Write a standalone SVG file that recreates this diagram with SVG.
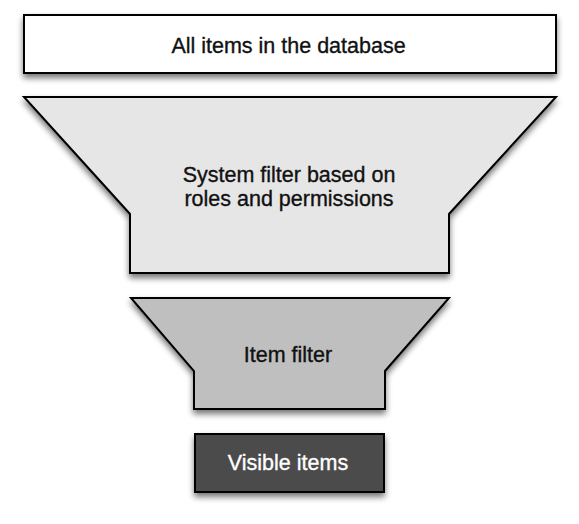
<svg xmlns="http://www.w3.org/2000/svg" width="579" height="524" viewBox="0 0 579 524">
<defs>
<filter id="sh" x="-20%" y="-20%" width="140%" height="150%">
<feGaussianBlur in="SourceAlpha" stdDeviation="3"/>
<feOffset dx="0" dy="4" result="b"/>
<feComponentTransfer><feFuncA type="linear" slope="0.55"/></feComponentTransfer>
<feMerge><feMergeNode/><feMergeNode in="SourceGraphic"/></feMerge>
</filter>
</defs>
<style>
.s{stroke:#000;stroke-width:2;stroke-linejoin:miter;filter:url(#sh)}
text{font-family:"Liberation Sans",Arial,sans-serif;font-size:21.5px;text-anchor:middle;fill:#111;stroke:#111;stroke-width:0.35}
text.w{fill:#fff;stroke:#fff}
</style>
<rect width="579" height="524" fill="#fff"/>
<g id="node-all">
<rect class="s" x="24" y="15" width="532" height="58" fill="#fff"/>
<text x="288.5" y="53">All items in the database</text>
</g>
<g id="node-system">
<path class="s" d="M24,97 L556,97 L449,214 L449,273 L130,273 L130,214 Z" fill="#e6e6e6"/>
<text x="289" y="181.5">System filter based on</text>
<text x="289" y="205.5">roles and permissions</text>
</g>
<g id="node-item">
<path class="s" d="M131,298 L449,298 L385,371 L385,409 L194,409 L194,371 Z" fill="#bfbfbf"/>
<text x="288" y="361.5">Item filter</text>
</g>
<g id="node-visible">
<rect class="s" x="195" y="434" width="189" height="58" fill="#4c4c4c"/>
<text class="w" x="288" y="470">Visible items</text>
</g>
<g id="connectors"/>
</svg>
